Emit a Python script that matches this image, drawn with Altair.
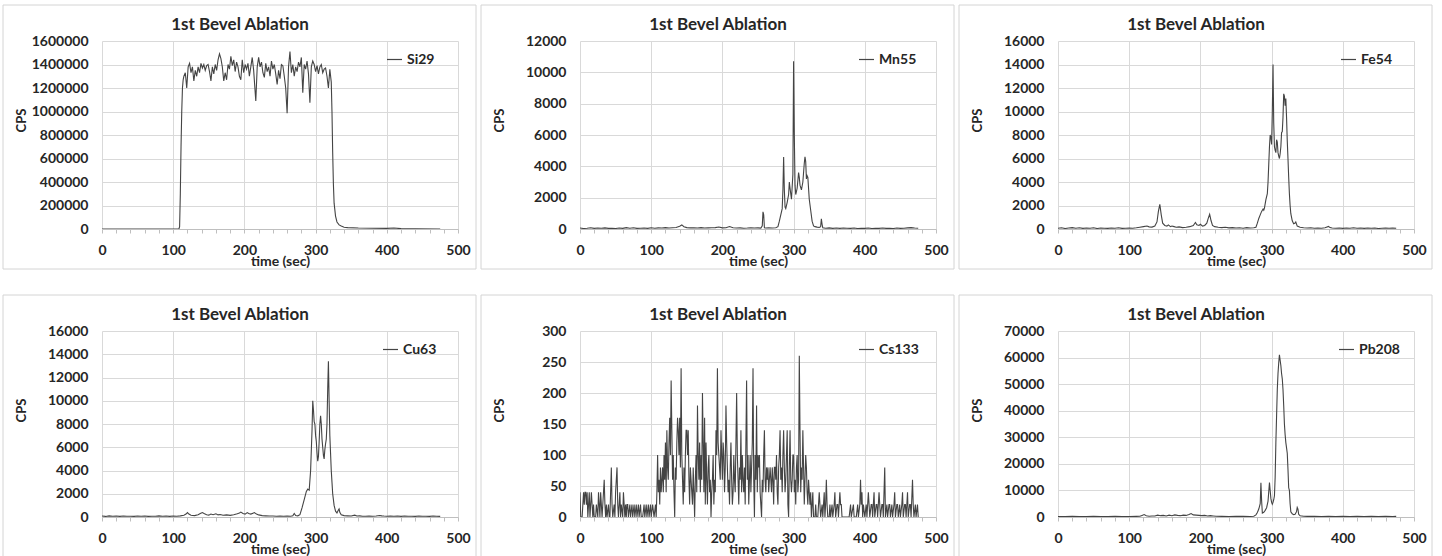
import altair as alt
import pandas as pd

FONT = "Lato"
INK = "#262626"
GRID = "#d9d9d9"
LINE = "#444444"
TITLE = "1st Bevel Ablation"
W = 356

# ---------------- Si29 ----------------
si29_t = [0, 20, 40, 60, 80, 100, 105, 108, 109, 110, 111, 112, 113, 114, 115, 117, 119, 121, 123, 125,
          127, 129, 131, 133, 135, 137, 139, 141, 143, 145, 147, 149, 151, 153, 155, 157, 159, 161, 163, 165,
          167, 169, 171, 173, 175, 177, 179, 181, 183, 185, 187, 189, 191, 193, 195, 197, 199, 201, 203, 205,
          207, 209, 211, 213, 216, 218, 220, 222, 224, 226, 228, 230, 232, 234, 236, 238, 240, 242, 244, 246,
          248, 250, 252, 254, 256, 258, 260, 262, 264, 266, 268, 270, 272, 274, 276, 278, 280, 282, 284, 286,
          288, 290, 292, 294, 296, 298, 300, 302, 304, 306, 308, 310, 312, 314, 316, 318, 320, 322, 323, 324,
          325, 326, 328, 330, 333, 336, 340, 345, 360, 380, 400, 410, 420, 440, 475]
si29_v = [0, 0, 0, 0, 0, 0, 0, 0, 20000, 300000, 700000, 1000000, 1200000, 1270000, 1300000, 1330000, 1200000, 1380000, 1410000, 1330000,
          1380000, 1260000, 1350000, 1300000, 1380000, 1330000, 1410000, 1370000, 1400000, 1350000, 1390000, 1400000, 1340000, 1260000, 1380000, 1320000, 1400000, 1350000, 1440000, 1490000,
          1450000, 1380000, 1260000, 1330000, 1270000, 1400000, 1360000, 1470000, 1390000, 1440000, 1340000, 1420000, 1380000, 1300000, 1270000, 1440000, 1330000, 1400000, 1360000, 1410000,
          1300000, 1380000, 1460000, 1350000, 1090000, 1380000, 1460000, 1380000, 1420000, 1330000, 1290000, 1410000, 1340000, 1380000, 1300000, 1430000, 1360000, 1400000, 1320000, 1230000,
          1350000, 1280000, 1400000, 1390000, 1300000, 1200000, 985000, 1380000, 1510000, 1330000, 1400000, 1300000, 1380000, 1340000, 1420000, 1380000, 1460000, 1160000, 1400000, 1360000,
          1430000, 1320000, 1075000, 1380000, 1430000, 1400000, 1340000, 1390000, 1320000, 1380000, 1400000, 1330000, 1360000, 1370000, 1300000, 1200000, 1360000, 1250000, 1000000, 650000,
          380000, 220000, 110000, 60000, 35000, 25000, 15000, 12000, 8000, 6000, 5000, 8000, 3000, 2000, 0]

# ---------------- Mn55 ----------------
mn55_t = [0, 5, 10, 15, 20, 25, 30, 35, 40, 45, 50, 55, 60, 65, 70, 75, 80, 85, 90, 95,
          100, 105, 110, 115, 120, 125, 130, 135, 140, 143, 146, 150, 155, 160, 165, 170, 175, 180, 185, 190,
          195, 200, 205, 210, 213, 215, 220, 225, 230, 235, 240, 245, 250, 254, 256, 257, 258, 259, 261, 265,
          270, 275, 278, 280, 282, 284, 285, 286, 287, 288, 289, 291, 293, 294, 295, 297, 299, 300, 301, 302,
          303, 305, 307, 308, 309, 311, 313, 315, 316, 317, 318, 319, 320, 321, 322, 324, 326, 328, 330, 333,
          336, 338, 339, 340, 341, 345, 350, 355, 360, 365, 370, 375, 380, 385, 390, 395, 400, 405, 410, 415,
          420, 425, 430, 435, 440, 445, 450, 455, 460, 465, 470, 475]
mn55_v = [60, 30, 50, 80, 40, 60, 50, 70, 40, 50, 30, 60, 40, 90, 50, 80, 40, 50, 60, 40,
          80, 50, 70, 60, 90, 60, 80, 100, 180, 260, 150, 90, 70, 80, 60, 90, 60, 70, 80, 90,
          130, 70, 80, 160, 110, 80, 60, 70, 50, 60, 80, 60, 70, 60, 200, 1100, 900, 80, 60, 70,
          60, 80, 150, 500, 900, 1300, 2500, 4600, 2500, 1400, 1300, 1700, 2200, 3000, 2600, 1900, 3500, 10700, 6000, 2800,
          2200, 2600, 3600, 3300, 2800, 2500, 3000, 4200, 4600, 4300, 3200, 3400, 3300, 2600, 1900, 1200, 500, 200, 150, 120,
          100, 150, 650, 300, 80, 50, 70, 40, 60, 40, 60, 50, 40, 60, 30, 50, 40, 60, 30, 50,
          40, 60, 40, 50, 30, 60, 40, 50, 70, 90, 60, 50]

# ---------------- Fe54 ----------------
fe54_t = [0, 5, 10, 15, 20, 25, 30, 35, 40, 45, 50, 55, 60, 65, 70, 75, 80, 85, 90, 95,
          100, 105, 110, 115, 120, 125, 128, 132, 136, 139, 141, 143, 145, 147, 150, 153, 155, 158, 160, 163,
          166, 170, 175, 180, 185, 190, 193, 195, 198, 200, 203, 206, 209, 211, 213, 215, 217, 220, 225, 230,
          235, 240, 245, 250, 255, 260, 265, 270, 275, 278, 280, 282, 284, 286, 288, 289, 290, 292, 294, 295,
          296, 297, 298, 299, 300, 301, 302, 303, 304, 305, 306, 307, 308, 309, 310, 311, 312, 313, 314, 315,
          316, 317, 318, 319, 320, 321, 322, 323, 324, 325, 326, 327, 329, 331, 333, 334, 336, 340, 345, 350,
          355, 360, 365, 370, 375, 380, 382, 385, 390, 395, 400, 405, 410, 415, 420, 425, 430, 435, 440, 445,
          450, 455, 460, 465, 470, 475]
fe54_v = [60, 100, 40, 80, 120, 60, 100, 50, 80, 60, 100, 40, 90, 70, 50, 80, 60, 100, 50, 70,
          80, 60, 100, 150, 200, 250, 180, 160, 250, 600, 1500, 2100, 1200, 500, 300, 250, 350, 200, 250, 200,
          150, 180, 120, 150, 200, 300, 550, 350, 300, 400, 250, 300, 500, 900, 1250, 700, 300, 200, 150, 120,
          150, 100, 120, 80, 100, 70, 120, 80, 100, 150, 500, 900, 1200, 1500, 1700, 1600, 1800, 2500, 3000, 4000,
          5500, 7000, 8000, 7800, 7200, 10000, 14000, 9000, 7000, 6700, 6500, 7600, 7400, 6500, 6200, 6000, 6400, 7000, 8200, 8300,
          9500, 11500, 11300, 10500, 11100, 9500, 7500, 6000, 4400, 3000, 2000, 1300, 700, 450, 500, 600, 250, 150, 100, 80,
          100, 60, 90, 70, 100, 220, 120, 80, 60, 90, 50, 80, 60, 100, 60, 80, 50, 90, 60, 80,
          40, 70, 80, 60, 90, 70]

# ---------------- Cu63 ----------------
cu63_t = [0, 5, 10, 15, 20, 25, 30, 35, 40, 45, 50, 55, 60, 65, 70, 75, 80, 85, 90, 95,
          100, 105, 110, 115, 118, 120, 122, 125, 130, 135, 138, 141, 144, 147, 150, 153, 156, 160, 163, 166,
          170, 175, 180, 185, 190, 193, 195, 198, 201, 204, 206, 209, 212, 214, 217, 220, 225, 230, 235, 240,
          245, 250, 255, 260, 265, 268, 270, 272, 275, 278, 281, 284, 287, 289, 291, 293, 295, 296, 297, 298,
          299, 300, 301, 302, 303, 304, 305, 306, 307, 308, 309, 310, 311, 312, 313, 314, 315, 316, 317, 318,
          319, 320, 321, 322, 323, 324, 326, 328, 330, 332, 333, 334, 336, 340, 345, 350, 355, 358, 362, 366,
          370, 375, 380, 385, 390, 393, 396, 400, 405, 410, 415, 420, 425, 430, 435, 440, 445, 450, 455, 460,
          465, 470, 475]
cu63_v = [80, 50, 100, 60, 80, 50, 90, 60, 70, 50, 80, 60, 90, 50, 70, 60, 100, 60, 80, 50,
          90, 70, 100, 150, 250, 380, 250, 150, 120, 200, 300, 380, 280, 200, 160, 250, 200, 280, 180, 220,
          150, 180, 140, 200, 280, 350, 420, 300, 250, 380, 300, 250, 330, 380, 250, 180, 120, 100, 80, 90,
          70, 80, 60, 90, 70, 100, 300, 120, 100, 200, 800, 1500, 2200, 2400, 2300, 4000, 7500, 10000, 9200, 8200,
          8000, 7000, 6500, 5500, 4800, 5200, 6500, 8000, 8700, 8000, 6700, 6000, 5300, 5000, 5800, 6300, 6700, 8000, 11000, 13400,
          10000, 7000, 5500, 4000, 3000, 2000, 1000, 500, 350, 600, 700, 400, 200, 120, 100, 80, 160, 90, 100, 70,
          60, 90, 70, 80, 130, 100, 80, 60, 90, 60, 80, 50, 90, 60, 70, 50, 80, 60, 70, 50,
          80, 60, 50]

# ---------------- Cs133 ----------------
cs133_t = [0, 1, 3, 5, 6, 7, 8, 9, 10, 11, 12, 13, 14, 15, 16, 18, 19, 20, 22, 23,
           25, 26, 27, 28, 29, 30, 31, 33, 34, 35, 36, 37, 38, 40, 41, 42, 44, 45, 46, 48,
           49, 50, 52, 53, 54, 55, 56, 57, 58, 60, 61, 62, 63, 64, 65, 66, 67, 68, 70, 71,
           73, 74, 76, 77, 79, 80, 82, 83, 85, 86, 88, 90, 91, 93, 94, 96, 97, 99, 100, 102,
           104, 106, 107, 108, 109, 110, 111, 112, 113, 114, 115, 116, 117, 118, 119, 120, 121, 122, 123, 124,
           125, 126, 127, 128, 129, 130, 131, 132, 133, 134, 135, 136, 137, 138, 139, 140, 141, 142, 143, 144,
           145, 146, 147, 148, 149, 150, 151, 152, 153, 154, 155, 156, 157, 158, 159, 160, 161, 162, 163, 164,
           165, 166, 167, 168, 169, 170, 171, 172, 173, 174, 175, 176, 177, 178, 179, 180, 181, 182, 183, 184,
           185, 186, 187, 188, 189, 190, 191, 192, 193, 194, 195, 196, 197, 198, 199, 200, 201, 202, 203, 204,
           205, 206, 207, 208, 209, 210, 211, 212, 213, 214, 215, 216, 217, 218, 219, 220, 221, 222, 223, 224,
           225, 226, 227, 228, 229, 230, 231, 232, 233, 234, 235, 236, 237, 238, 239, 240, 241, 242, 243, 244,
           245, 246, 247, 248, 249, 250, 251, 252, 253, 254, 255, 256, 257, 258, 259, 260, 261, 262, 263, 264,
           265, 266, 267, 268, 269, 270, 271, 272, 273, 274, 275, 276, 277, 278, 279, 280, 281, 282, 283, 284,
           285, 286, 287, 288, 289, 290, 291, 292, 293, 294, 295, 296, 297, 298, 299, 300, 301, 302, 303, 304,
           305, 306, 307, 308, 309, 310, 311, 312, 313, 314, 315, 316, 317, 318, 319, 320, 321, 322, 323, 324,
           325, 326, 327, 328, 330, 331, 332, 334, 336, 337, 338, 340, 341, 343, 344, 345, 346, 347, 348, 350,
           351, 352, 354, 355, 357, 358, 359, 361, 362, 363, 365, 366, 367, 368, 372, 375, 378, 380, 381, 384,
           385, 388, 390, 391, 393, 394, 395, 396, 397, 398, 400, 402, 403, 405, 406, 407, 409, 410, 411, 413,
           414, 416, 417, 418, 420, 421, 422, 424, 425, 426, 428, 429, 431, 432, 434, 435, 436, 438, 439, 441,
           442, 443, 445, 446, 447, 449, 450, 452, 453, 454, 456, 457, 458, 460, 461, 463, 464, 465, 467, 468,
           469, 471, 472, 474, 475]
cs133_v = [40, 0, 0, 40, 20, 40, 40, 20, 40, 0, 20, 40, 0, 20, 40, 0, 20, 0, 0, 20,
           0, 40, 20, 0, 40, 20, 0, 40, 60, 20, 0, 20, 0, 20, 0, 0, 80, 20, 0, 20,
           0, 40, 80, 20, 0, 20, 40, 0, 20, 0, 40, 20, 0, 20, 0, 20, 20, 0, 20, 0,
           20, 0, 20, 0, 20, 0, 20, 0, 20, 0, 0, 20, 0, 20, 0, 20, 0, 20, 0, 20,
           0, 20, 0, 40, 100, 40, 60, 20, 80, 40, 60, 80, 40, 100, 60, 120, 40, 140, 80, 60,
           120, 160, 100, 220, 140, 60, 100, 40, 0, 80, 60, 120, 160, 140, 100, 160, 80, 240, 100, 60,
           20, 80, 40, 100, 140, 140, 100, 140, 60, 20, 80, 60, 40, 20, 80, 40, 0, 60, 100, 40,
           180, 100, 60, 120, 40, 100, 60, 200, 120, 40, 160, 20, 120, 60, 20, 80, 100, 40, 60, 0,
           40, 60, 100, 20, 60, 40, 140, 100, 240, 120, 100, 80, 60, 140, 100, 60, 120, 100, 40, 80,
           180, 120, 80, 40, 60, 20, 80, 120, 60, 20, 40, 100, 60, 40, 120, 200, 100, 60, 20, 80,
           60, 140, 40, 100, 60, 40, 80, 20, 120, 220, 60, 100, 20, 60, 100, 40, 80, 120, 240, 60,
           0, 100, 60, 180, 40, 100, 80, 100, 40, 20, 0, 60, 40, 100, 140, 60, 40, 80, 60, 80,
           40, 60, 80, 60, 40, 80, 60, 20, 80, 80, 60, 100, 40, 20, 80, 100, 140, 60, 80, 40,
           100, 140, 80, 40, 60, 100, 140, 20, 0, 80, 140, 60, 40, 60, 100, 100, 40, 60, 20, 80,
           100, 40, 60, 260, 140, 40, 80, 60, 140, 80, 20, 60, 100, 80, 40, 20, 60, 40, 20, 40,
           0, 20, 40, 0, 0, 20, 0, 0, 40, 20, 0, 20, 0, 40, 0, 20, 60, 20, 0, 0,
           20, 0, 20, 0, 20, 40, 0, 20, 20, 0, 40, 20, 20, 0, 0, 0, 0, 20, 0, 20,
           0, 0, 20, 0, 20, 60, 20, 40, 0, 20, 0, 20, 0, 40, 20, 0, 20, 20, 0, 40,
           0, 20, 20, 0, 40, 20, 0, 20, 20, 0, 80, 0, 20, 0, 20, 20, 0, 20, 0, 20,
           40, 0, 20, 20, 0, 20, 0, 20, 40, 0, 20, 20, 0, 40, 0, 20, 20, 0, 60, 20,
           0, 20, 0, 20, 0]

# ---------------- Pb208 ----------------
pb208_t = [0, 10, 20, 30, 40, 50, 60, 70, 80, 90, 100, 110, 115, 118, 121, 124, 128, 132, 136, 140,
           144, 148, 152, 156, 160, 164, 168, 172, 176, 180, 184, 187, 190, 194, 198, 202, 206, 210, 214, 218,
           222, 230, 240, 250, 260, 270, 275, 278, 280, 282, 284, 285, 286, 287, 289, 291, 293, 295, 297, 298,
           299, 300, 301, 302, 303, 304, 305, 306, 307, 308, 309, 310, 311, 312, 313, 314, 315, 316, 317, 318,
           319, 320, 321, 322, 323, 324, 325, 326, 327, 329, 331, 333, 335, 336, 337, 338, 340, 345, 350, 360,
           370, 380, 390, 400, 410, 420, 430, 440, 450, 460, 470, 475]
pb208_v = [200, 150, 250, 200, 180, 250, 200, 150, 250, 200, 180, 250, 300, 600, 900, 500, 300, 400, 350, 700,
           500, 600, 400, 700, 500, 800, 600, 500, 700, 600, 900, 1300, 800, 700, 600, 500, 600, 400, 500, 400,
           300, 250, 200, 300, 250, 200, 300, 800, 1700, 3000, 5000, 12900, 6000, 1500, 1800, 2500, 3500, 6000, 13000, 10000,
           7000, 5500, 4800, 5500, 6500, 8000, 15000, 28000, 38000, 48000, 54000, 58000, 61000, 59000, 57000, 54000, 52000, 48000, 42000, 35000,
           31000, 28000, 26000, 24000, 18000, 11000, 10000, 5000, 2000, 1200, 900, 1000, 2000, 3600, 3000, 1000, 500, 300, 250, 300,
           200, 250, 200, 300, 200, 250, 200, 250, 200, 300, 200, 250]

# name, times, values, y max, y step, legend x, row height
PANELS = [
    ("Si29", si29_t, si29_v, 1600000, 200000, 284, 188),
    ("Mn55", mn55_t, mn55_v, 12000, 2000, 278, 188),
    ("Fe54", fe54_t, fe54_v, 16000, 2000, 282, 188),
    ("Cu63", cu63_t, cu63_v, 16000, 2000, 280, 186),
    ("Cs133", cs133_t, cs133_v, 300, 50, 278, 186),
    ("Pb208", pb208_t, pb208_v, 70000, 10000, 280, 186),
]


def panel(name, t, v, ymax, ystep, legx, h):
    df = pd.DataFrame({"time": t, "cps": v, "isotope": name})
    one = pd.DataFrame({"label": [TITLE]})

    frame = alt.Chart(one).mark_rect(filled=False, stroke="#d4d4d4", strokeWidth=1).encode(
        x=alt.value(-99), x2=alt.value(W + 18), y=alt.value(-36), y2=alt.value(h + 40)
    )

    title = alt.Chart(one).mark_text(
        font=FONT, fontSize=17, fontWeight="bold", color=INK, align="center", baseline="alphabetic"
    ).encode(x=alt.value(138), y=alt.value(-11), text="label:N")

    xaxis = alt.Axis(
        values=list(range(0, 501, 20)),
        labelExpr="datum.value % 100 === 0 ? datum.label : ''",
        labelOverlap=False, labelFlush=False,
        grid=True, gridColor=GRID, gridWidth=1,
        gridOpacity={"condition": {"test": "datum.value % 100 === 0", "value": 1}, "value": 0},
        domainColor="#bfbfbf", tickColor="#bfbfbf", tickSize=4, tickWidth=1,
        labelPadding=10, labelFont=FONT, labelFontSize=14, labelFontWeight="bold", labelColor=INK,
        title="time (sec)", titleFont=FONT, titleFontSize=14, titleFontWeight="bold", titleColor=INK,
        titleY=25, titleBaseline="top",
    )
    yaxis = alt.Axis(
        values=list(range(0, ymax + 1, ystep)), format="d",
        grid=True, gridColor=GRID, gridWidth=1, domain=False, ticks=False,
        labelPadding=14, labelFont=FONT, labelFontSize=14, labelFontWeight="bold", labelColor=INK,
        title="CPS", titleFont=FONT, titleFontSize=13, titleFontWeight="bold", titleColor=INK,
        titleAngle=270, titleX=-81, titleY=79, titleAlign="center", titleBaseline="middle",
    )

    line = alt.Chart(df).mark_line(strokeWidth=1.1, clip=True).encode(
        x=alt.X("time:Q", scale=alt.Scale(domain=[0, 500], nice=False), axis=xaxis),
        y=alt.Y("cps:Q", scale=alt.Scale(domain=[0, ymax], nice=False), axis=yaxis),
        color=alt.Color(
            "isotope:N",
            scale=alt.Scale(range=[LINE]),
            legend=alt.Legend(
                title=None, orient="none", legendX=legx, legendY=10, padding=0,
                symbolType="stroke", symbolSize=225, symbolStrokeWidth=1.2,
                labelFont=FONT, labelFontSize=14, labelFontWeight="bold", labelColor=INK, labelOffset=4,
            ),
        ),
        order="time:Q",
    )

    return alt.layer(frame, line, title).properties(width=W, height=h)


charts = [panel(*p) for p in PANELS]

chart = (
    alt.concat(*charts, columns=3, spacing={"row": 102, "column": 122}, bounds="flush")
    .resolve_scale(x="independent", y="independent", color="independent")
    .resolve_legend(color="independent")
    .properties(padding={"left": 2, "top": 4, "right": 0, "bottom": 0}, background="white")
    .configure_view(stroke="transparent")
)

chart.save("out.html", embed_options={"renderer": "svg", "actions": False})
